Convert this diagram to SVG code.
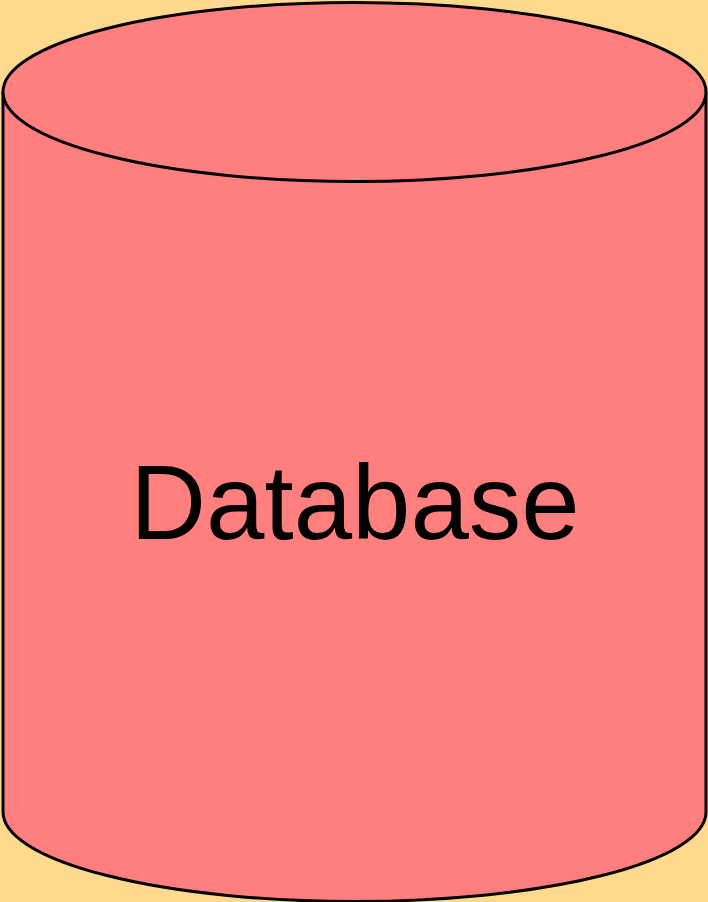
<svg xmlns="http://www.w3.org/2000/svg" width="708" height="902" viewBox="0 0 708 902">
<style>
.shape{fill:#FF7F7F;stroke:#000;stroke-width:3}
.lbl{font-family:"Liberation Sans",Arial,sans-serif;font-size:105px;fill:#000;text-anchor:middle}
</style>
<rect x="0" y="0" width="708" height="902" fill="#FFD98E"/>
<g id="database">
<path class="shape" d="M3,92 A351.5,89.5 0 0 1 706,92 L706,812 A351.5,89.5 0 0 1 3,812 Z"/>
<path class="shape" fill="none" d="M3,92 A351.5,89.5 0 0 0 706,92"/>
<text class="lbl" x="355" y="539">Database</text>
</g>
</svg>
